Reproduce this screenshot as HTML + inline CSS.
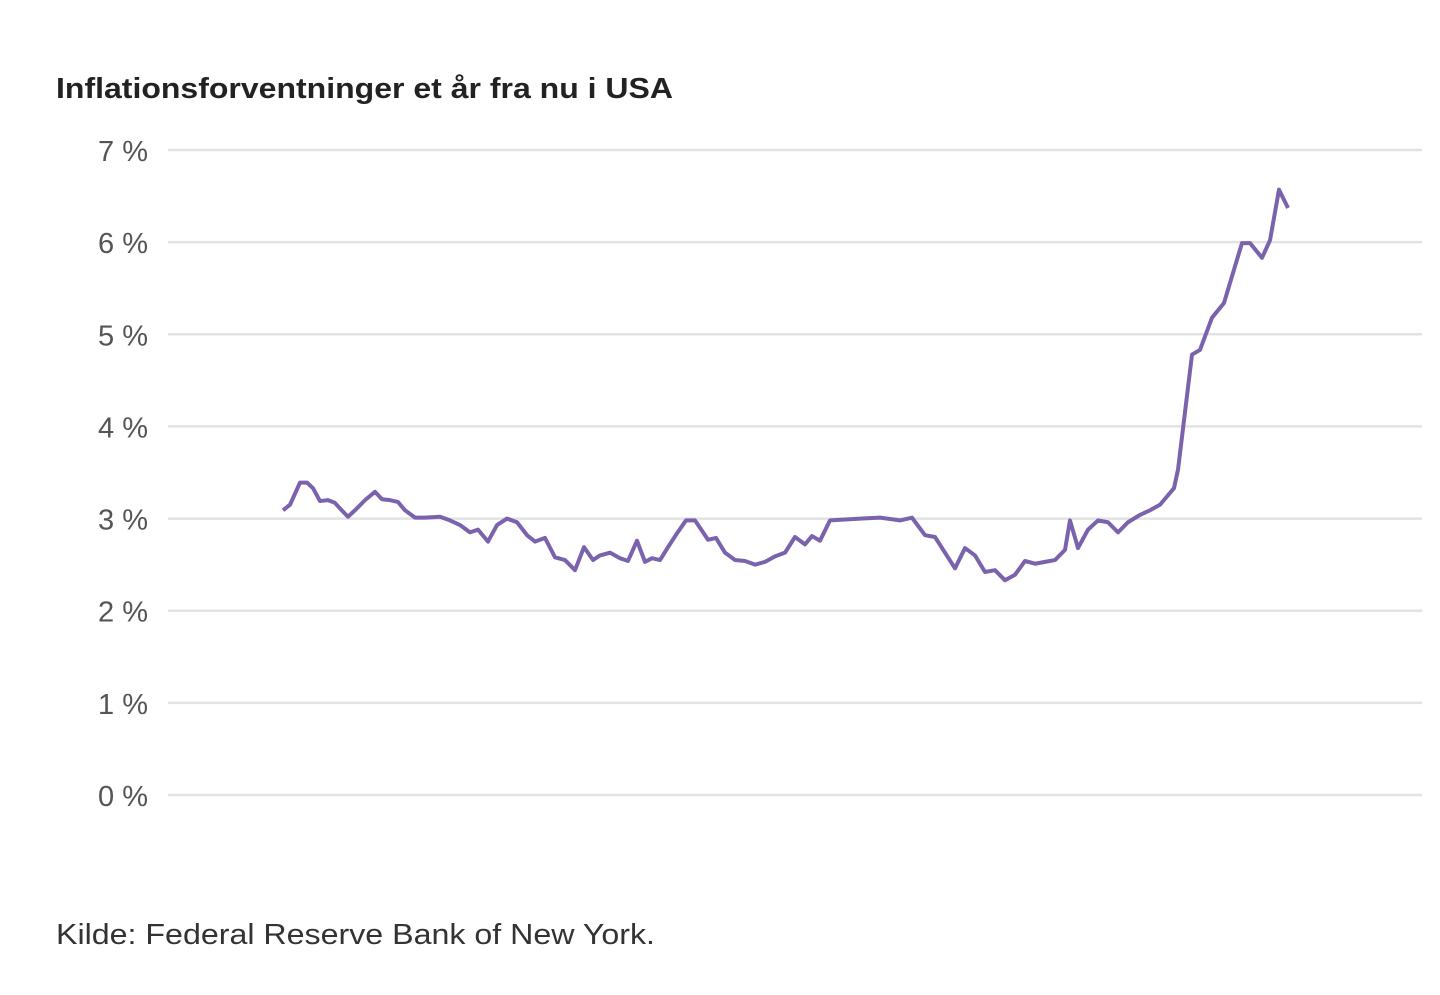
<!DOCTYPE html>
<html><head><meta charset="utf-8"><style>
body{margin:0;background:#fff;width:1440px;height:990px;overflow:hidden;font-family:"Liberation Sans",sans-serif}
</style></head><body>
<svg width="1440" height="990" id="c">
<text x="56" y="98" font-size="29" font-weight="bold" fill="#222" textLength="617" lengthAdjust="spacingAndGlyphs">Inflationsforventninger et år fra nu i USA</text>
<text x="56" y="944" font-size="29" fill="#333" textLength="599" lengthAdjust="spacingAndGlyphs">Kilde: Federal Reserve Bank of New York.</text>
<g id="grid"></g><g id="lbl"></g><g id="ln"></g>
</svg>
<script>
const yTicks=[0,1,2,3,4,5,6,7];
const timeIdx=[0,7,17,24,30,37,45,52,57,65,72,82,92,99,107,115,122,132,142,157,167,177,187,195,205,214,224,234,244,252,262,272,282,292,301,310,317,327,337,345,354,362,369,377,385,394,403,412,417,425,433,442,452,462,472,482,492,502,512,522,529,537,547,562,577,597,617,629,642,652,662,672,682,692,702,712,722,732,742,752,762,772,782,787,795,805,815,825,835,845,857,867,877,891,895,909,917,929,941,959,967,979,987,996,1005];
const values=[3.09,3.15,3.39,3.39,3.33,3.19,3.20,3.17,3.11,3.02,3.09,3.20,3.29,3.21,3.20,3.18,3.09,3.01,3.01,3.02,2.98,2.93,2.85,2.88,2.75,2.93,3.00,2.96,2.82,2.75,2.79,2.58,2.55,2.44,2.69,2.55,2.60,2.63,2.57,2.54,2.76,2.53,2.57,2.55,2.69,2.84,2.98,2.98,2.90,2.77,2.79,2.63,2.55,2.54,2.50,2.53,2.59,2.63,2.80,2.72,2.81,2.76,2.98,2.99,3.00,3.01,2.98,3.01,2.82,2.80,2.63,2.46,2.68,2.60,2.42,2.44,2.33,2.39,2.54,2.51,2.53,2.55,2.66,2.98,2.68,2.88,2.98,2.96,2.85,2.96,3.04,3.09,3.15,3.33,3.53,4.78,4.83,5.18,5.34,5.99,5.99,5.83,6.02,6.57,6.37];
const NS="http://www.w3.org/2000/svg";
const y=v=>795-v*(645/7);
const x=t=>283+t*(1005/1005);
const g=document.getElementById('grid'),l=document.getElementById('lbl'),ln=document.getElementById('ln');
yTicks.forEach(v=>{
 const e=document.createElementNS(NS,'line');
 e.setAttribute('x1',168);e.setAttribute('x2',1422);e.setAttribute('y1',y(v));e.setAttribute('y2',y(v));
 e.setAttribute('stroke','#e3e3e3');e.setAttribute('stroke-width','2.5');
 
 
 g.appendChild(e);
 const t=document.createElementNS(NS,'text');
 t.setAttribute('x',148);t.setAttribute('y',y(v)+11);t.setAttribute('text-anchor','end');
 t.setAttribute('font-size','29');t.setAttribute('fill','#555');
 t.textContent=v+' %';
 
 
 l.appendChild(t);
});
const p=document.createElementNS(NS,'path');
p.setAttribute('d',values.map((v,i)=>(i?'L':'M')+x(timeIdx[i])+','+y(v)).join(''));
p.setAttribute('fill','none');p.setAttribute('stroke','#7b62ad');p.setAttribute('stroke-width','4');p.setAttribute('stroke-linejoin','round');


ln.appendChild(p);
</script>
</body></html>
